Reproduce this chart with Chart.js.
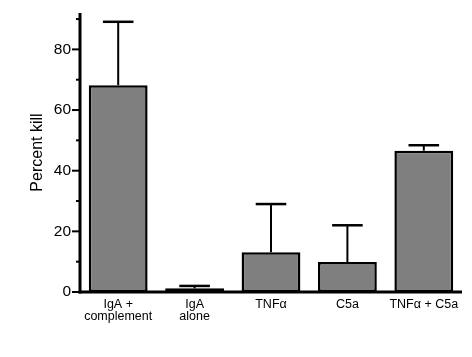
<!DOCTYPE html>
<html>
<head>
<meta charset="utf-8">
<script src="https://cdn.jsdelivr.net/npm/chart.js@4.4.1/dist/chart.umd.min.js"></script>
<style>
html,body{margin:0;padding:0;background:#fff;}
#wrap{width:472px;height:357px;position:relative;}
</style>
</head>
<body>
<div id="wrap"><canvas id="c" width="472" height="357"></canvas></div>
<script>
const categories = [["IgA +","complement"],["IgA","alone"],"TNFα","C5a","TNFα + C5a"];
const meanKill = [68.2, 1.2, 13.1, 9.9, 46.6];
const sdKill = [20.9, 0.8, 15.9, 12.1, 1.8];
const yTickValues = [0,10,20,30,40,50,60,70,80,90];
const yLabelValues = [0,20,40,60,80];

const FONT = "'Liberation Sans', Arial, Helvetica, sans-serif";

const axesAndErrors = {
  id: 'axesAndErrors',
  afterDatasetsDraw(chart) {
    const ctx = chart.ctx;
    const y = chart.scales.y;
    const area = chart.chartArea;
    ctx.save();
    ctx.strokeStyle = '#000';
    const meta = chart.getDatasetMeta(0);
    meta.data.forEach((bar, i) => {
      const cx = bar.x;
      const yTop = y.getPixelForValue(meanKill[i]);
      const yErr = y.getPixelForValue(meanKill[i] + sdKill[i]);
      const capHalf = bar.width * 0.26;
      ctx.lineWidth = 2;
      ctx.beginPath();
      ctx.moveTo(cx, yTop);
      ctx.lineTo(cx, yErr);
      ctx.stroke();
      ctx.lineWidth = 2.5;
      ctx.beginPath();
      ctx.moveTo(cx - capHalf, yErr);
      ctx.lineTo(cx + capHalf, yErr);
      ctx.stroke();
    });
    ctx.lineWidth = 3;
    ctx.beginPath();
    ctx.moveTo(area.left, area.top);
    ctx.lineTo(area.left, y.getPixelForValue(0) + 1.5);
    ctx.stroke();
    ctx.beginPath();
    ctx.moveTo(area.left - 1.5, y.getPixelForValue(0));
    ctx.lineTo(area.right, y.getPixelForValue(0));
    ctx.stroke();
    ctx.lineWidth = 2;
    yTickValues.forEach(v => {
      const py = y.getPixelForValue(v);
      const len = yLabelValues.includes(v) ? 8 : 4;
      ctx.beginPath();
      ctx.moveTo(area.left - len, py);
      ctx.lineTo(area.left, py);
      ctx.stroke();
    });
    ctx.restore();
  }
};

new Chart(document.getElementById('c'), {
  type: 'bar',
  data: {
    labels: categories,
    datasets: [{
      data: meanKill,
      backgroundColor: '#7f7f7f',
      borderColor: '#000',
      borderWidth: 2.5,
      borderSkipped: false,
      categoryPercentage: 1,
      barPercentage: 0.77
    }]
  },
  options: {
    responsive: false,
    animation: false,
    devicePixelRatio: 1,
    layout: { padding: { top: 13, right: 10, bottom: 0, left: 0 } },
    plugins: { legend: { display: false }, tooltip: { enabled: false } },
    scales: {
      x: {
        offset: true,
        grid: { display: false, drawTicks: false },
        border: { display: false },
        ticks: {
          color: '#000',
          font: { family: FONT, size: 12.5, lineHeight: 1.0 },
          padding: 6,
          maxRotation: 0,
          autoSkip: false
        },
        afterFit(s) { s.height = 65; s.paddingLeft = 0; s.paddingRight = 0; }
      },
      y: {
        min: 0,
        max: 92,
        grid: { display: false, drawTicks: false },
        border: { display: false },
        afterBuildTicks(s) { s.ticks = yTickValues.map(v => ({ value: v })); },
        ticks: {
          color: '#000',
          font: { family: FONT, size: 15.5 },
          padding: 9,
          callback: (v) => yLabelValues.includes(v) ? String(v) : ''
        },
        title: {
          display: true,
          text: 'Percent kill',
          color: '#000',
          font: { family: FONT, size: 16 },
          padding: { top: 28, bottom: 0 }
        },
        afterFit(s) { s.width = 80; s.paddingTop = 0; s.paddingBottom = 0; }
      }
    }
  },
  plugins: [axesAndErrors]
});
</script>
</body>
</html>
